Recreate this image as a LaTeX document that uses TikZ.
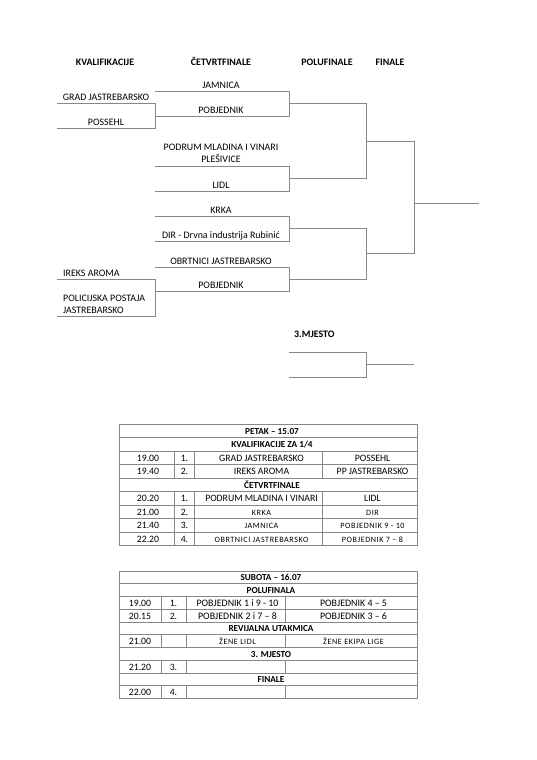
\documentclass[tikz,border=0pt]{standalone}
\usepackage{fontspec}
\setmainfont{Carlito}
\newfontfamily\smallsp[LetterSpace=7]{Carlito}
\definecolor{ln}{RGB}{135,135,135}
\begin{document}
\begin{tikzpicture}[x=1.1086pt,y=-1.1086pt,
  br/.style={draw=ln,line width=0.85pt},
  lab/.style={font=\fontsize{11}{13}\selectfont,anchor=base,inner sep=0pt},
  labl/.style={font=\fontsize{11}{13}\selectfont,anchor=base west,inner sep=0pt,align=left},
  hdr/.style={font=\bfseries\fontsize{11}{13}\selectfont,anchor=base,inner sep=0pt},
  tb/.style={draw=ln,line width=0.6pt},
  tc/.style={font=\fontsize{10.8}{12}\selectfont,anchor=base,inner sep=0pt},
  tcb/.style={font=\fontsize{11}{12}\selectfont,anchor=base,inner sep=0pt},
  ts/.style={font=\smallsp\fontsize{9}{11}\selectfont,anchor=base,inner sep=0pt},
  th/.style={font=\bfseries\fontsize{10.2}{11}\selectfont,anchor=base,inner sep=0pt}]
\useasboundingbox[fill=white] (0,0) rectangle (537,760);

% ---------- headers ----------
\node[hdr] (hK) at (105,65.5) {KVALIFIKACIJE};
\node[hdr] (hC) at (221,65.5) {ČETVRTFINALE};
\node[hdr] (hP) at (327,65.5) {POLUFINALE};
\node[hdr] (hF) at (390,65.5) {FINALE};

% ---------- bracket coordinates ----------
\coordinate (q1a) at (57,103);  \coordinate (q1b) at (155,103);
\coordinate (q2a) at (57,128);  \coordinate (q2b) at (155,128);
\coordinate (q3a) at (57,279);  \coordinate (q3b) at (155,279);
\coordinate (q4a) at (57,316);  \coordinate (q4b) at (155,316);

\coordinate (c1a) at (155,91);  \coordinate (c1b) at (289,91);
\coordinate (c2a) at (155,116); \coordinate (c2b) at (289,116);
\coordinate (c3a) at (155,166); \coordinate (c3b) at (289,166);
\coordinate (c4a) at (155,191); \coordinate (c4b) at (289,191);
\coordinate (c5a) at (155,216); \coordinate (c5b) at (289,216);
\coordinate (c6a) at (155,241); \coordinate (c6b) at (289,241);
\coordinate (c7a) at (155,267); \coordinate (c7b) at (289,267);
\coordinate (c8a) at (155,291); \coordinate (c8b) at (289,291);

\coordinate (s1a) at (289,103); \coordinate (s1b) at (366,103);
\coordinate (s2a) at (289,178); \coordinate (s2b) at (366,178);
\coordinate (s3a) at (289,228); \coordinate (s3b) at (366,228);
\coordinate (s4a) at (289,279); \coordinate (s4b) at (366,279);

\coordinate (f1a) at (366,141); \coordinate (f1b) at (414,141);
\coordinate (f2a) at (366,253); \coordinate (f2b) at (414,253);
\coordinate (wa) at (414,203);  \coordinate (wb) at (479,203);

\coordinate (m1a) at (289,352); \coordinate (m1b) at (366,352);
\coordinate (m2a) at (289,377); \coordinate (m2b) at (366,377);
\coordinate (mwa) at (366,364); \coordinate (mwb) at (414,364);

% ---------- bracket lines ----------
\draw[br] (q1a) -- (q1b) -- (q2b) -- (q2a);
\draw[br] (q3a) -- (q3b) -- (q4b) -- (q4a);
\draw[br] (c1a) -- (c1b) -- (c2b) -- (c2a);
\draw[br] (c3a) -- (c3b) -- (c4b) -- (c4a);
\draw[br] (c5a) -- (c5b) -- (c6b) -- (c6a);
\draw[br] (c7a) -- (c7b) -- (c8b) -- (c8a);
\draw[br] (s1a) -- (s1b) -- (s2b) -- (s2a);
\draw[br] (s3a) -- (s3b) -- (s4b) -- (s4a);
\draw[br] (f1a) -- (f1b) -- (f2b) -- (f2a);
\draw[br] (wa) -- (wb);
\draw[br] (m1a) -- (m1b) -- (m2b) -- (m2a);
\draw[br] (mwa) -- (mwb);

% ---------- bracket labels ----------
\node[lab] (lq1) at (106,100) {GRAD JASTREBARSKO};
\node[lab] (lq2) at (106,125) {POSSEHL};
\node[labl] (lq3) at (63,276) {IREKS AROMA};
\node[labl] (lq4) at (63,313) {JASTREBARSKO};
\node[labl] (lq4b) at (63,301) {POLICIJSKA POSTAJA};
\node[lab] (lc1) at (221,88) {JAMNICA};
\node[lab] (lc2) at (221,113) {POBJEDNIK};
\node[lab] (lc3b) at (221,150.5) {PODRUM MLADINA I VINARI};
\node[lab] (lc3) at (221,162.5) {PLEŠIVICE};
\node[lab] (lc4) at (221,188) {LIDL};
\node[lab] (lc5) at (221,213) {KRKA};
\node[lab] (lc6) at (221,238) {DIR - Drvna industrija Rubinić};
\node[lab] (lc7) at (221,264) {OBRTNICI JASTREBARSKO};
\node[lab] (lc8) at (221,288) {POBJEDNIK};
\node[hdr,anchor=base west] (h3) at (294,337) {3.MJESTO};

% ---------- table 1 ----------
\draw[tb] (119,424) rectangle (417,545.5);
\foreach \i in {1,...,8} \draw[tb] (119,424+13.5*\i) -- (417,424+13.5*\i);
\foreach \x in {174,194,322} {
  \draw[tb] (\x,451) -- (\x,478);
  \draw[tb] (\x,491.5) -- (\x,545.5);
}
\node[th] (t1h1) at (272,434.25) {PETAK – 15.07};
\node[th] (t1h2) at (272,447.75) {KVALIFIKACIJE ZA 1/4};
\node[tc] (t1a1) at (148,461.25) {19.00};
\node[tc] (t1b1) at (184.5,461.25) {1.};
\node[tc] (t1c1) at (261.5,461.25) {GRAD JASTREBARSKO};
\node[tc] (t1d1) at (372.5,461.25) {POSSEHL};
\node[tc] (t1a2) at (148,474.75) {19.40};
\node[tc] (t1b2) at (184.5,474.75) {2.};
\node[tc] (t1c2) at (261.5,474.75) {IREKS AROMA};
\node[tc] (t1d2) at (372.5,474.75) {PP JASTREBARSKO};
\node[th] (t1h3) at (272,488.25) {ČETVRTFINALE};
\node[tc] (t1a3) at (148,501.75) {20.20};
\node[tc] (t1b3) at (184.5,501.75) {1.};
\node[tc] (t1c3) at (261.5,501.75) {PODRUM MLADINA I VINARI};
\node[tc] (t1d3) at (372.5,501.75) {LIDL};
\node[tc] (t1a4) at (148,515.25) {21.00};
\node[tc] (t1b4) at (184.5,515.25) {2.};
\node[ts] (t1c4) at (261.5,515.25) {KRKA};
\node[ts] (t1d4) at (372.5,515.25) {DIR};
\node[tc] (t1a5) at (148,528.75) {21.40};
\node[tc] (t1b5) at (184.5,528.75) {3.};
\node[ts] (t1c5) at (261.5,528.75) {JAMNICA};
\node[ts] (t1d5) at (372.5,528.75) {POBJEDNIK 9 - 10};
\node[tc] (t1a6) at (148,542.25) {22.20};
\node[tc] (t1b6) at (184.5,542.25) {4.};
\node[ts] (t1c6) at (261.5,542.25) {OBRTNICI JASTREBARSKO};
\node[ts] (t1d6) at (372.5,542.25) {POBJEDNIK 7 – 8};

% ---------- table 2 ----------
\draw[tb] (119,571) rectangle (417,698.3);
\foreach \i in {1,...,9} \draw[tb] (119,571+12.73*\i) -- (417,571+12.73*\i);
\foreach \x in {161,186,285} {
  \draw[tb] (\x,596.46) -- (\x,621.92);
  \draw[tb] (\x,634.65) -- (\x,647.38);
  \draw[tb] (\x,660.11) -- (\x,672.84);
  \draw[tb] (\x,685.57) -- (\x,698.3);
}
\node[th] (t2h1) at (271,580.9) {SUBOTA – 16.07};
\node[th] (t2h2) at (271,593.6) {POLUFINALA};
\node[tc] (t2a1) at (140,606.3) {19.00};
\node[tc] (t2b1) at (173.5,606.3) {1.};
\node[tcb] (t2c1) at (237.5,606.3) {POBJEDNIK 1 i 9 - 10};
\node[tcb] (t2d1) at (353.5,606.3) {POBJEDNIK 4 – 5};
\node[tc] (t2a2) at (140,619.1) {20.15};
\node[tc] (t2b2) at (173.5,619.1) {2.};
\node[tcb] (t2c2) at (237.5,619.1) {POBJEDNIK 2 i 7 – 8};
\node[tcb] (t2d2) at (353.5,619.1) {POBJEDNIK 3 – 6};
\node[th] (t2h3) at (271,631.8) {REVIJALNA UTAKMICA};
\node[tc] (t2a3) at (140,644.5) {21.00};
\node[ts] (t2c3) at (237.5,644.5) {ŽENE LIDL};
\node[ts] (t2d3) at (353.5,644.5) {ŽENE EKIPA LIGE};
\node[th] (t2h4) at (271,657.3) {3. MJESTO};
\node[tc] (t2a4) at (140,670.0) {21.20};
\node[tc] (t2b4) at (173.5,670.0) {3.};
\node[th] (t2h5) at (271,682.7) {FINALE};
\node[tc] (t2a5) at (140,695.5) {22.00};
\node[tc] (t2b5) at (173.5,695.5) {4.};
\end{tikzpicture}
\end{document}
